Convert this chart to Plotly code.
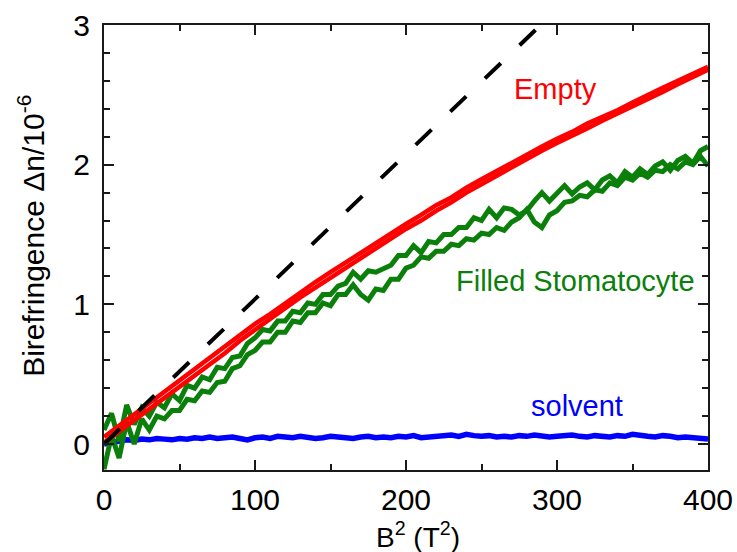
import plotly.graph_objects as go

# ---------------- data ----------------
x_fine = [0, 5, 10, 15, 20, 25, 30, 35, 40, 45, 50, 55, 60, 65, 70, 75, 80, 85, 90, 95,
          100, 105, 110, 115, 120, 125, 130, 135, 140, 145, 150, 155, 160, 165, 170, 175, 180, 185, 190, 195,
          200, 205, 210, 215, 220, 225, 230, 235, 240, 245, 250, 255, 260, 265, 270, 275, 280, 285, 290, 295,
          300, 305, 310, 315, 320, 325, 330, 335, 340, 345, 350, 355, 360, 365, 370, 375, 380, 385, 390, 395, 400]

x_coarse = [0, 10, 20, 30, 40, 50, 60, 70, 80, 90, 100, 110, 120, 130, 140, 150, 160, 170, 180, 190,
            200, 210, 220, 230, 240, 250, 260, 270, 280, 290, 300, 310, 320, 330, 340, 350, 360, 370, 380, 390, 400]

solvent = [0.0, 0.01, 0.02, 0.03, 0.025, 0.035, 0.03, 0.04, 0.035, 0.03, 0.04, 0.035, 0.045, 0.04, 0.05, 0.04,
           0.045, 0.05, 0.04, 0.03, 0.045, 0.05, 0.04, 0.055, 0.05, 0.045, 0.055, 0.05, 0.04, 0.045, 0.055, 0.05,
           0.045, 0.04, 0.05, 0.055, 0.045, 0.05, 0.045, 0.055, 0.05, 0.06, 0.045, 0.05, 0.055, 0.06, 0.065, 0.055,
           0.07, 0.06, 0.055, 0.06, 0.05, 0.055, 0.05, 0.06, 0.055, 0.065, 0.06, 0.05, 0.055, 0.06, 0.065, 0.055,
           0.05, 0.06, 0.055, 0.05, 0.06, 0.055, 0.07, 0.06, 0.055, 0.05, 0.06, 0.055, 0.045, 0.05, 0.045, 0.04, 0.035]

filled_up = [0.10, 0.22, 0.02, 0.28, 0.14, 0.26, 0.20, 0.30, 0.26, 0.36, 0.31, 0.42, 0.40, 0.48, 0.46, 0.55,
             0.54, 0.62, 0.63, 0.72, 0.76, 0.82, 0.81, 0.88, 0.88, 0.95, 0.94, 1.01, 1.00, 1.07, 1.07, 1.13,
             1.15, 1.23, 1.18, 1.24, 1.23, 1.26, 1.28, 1.35, 1.35, 1.42, 1.37, 1.45, 1.44, 1.50, 1.50, 1.55,
             1.55, 1.62, 1.60, 1.68, 1.62, 1.69, 1.68, 1.64, 1.67, 1.74, 1.80, 1.74, 1.79, 1.85, 1.79, 1.84,
             1.87, 1.82, 1.89, 1.92, 1.87, 1.95, 1.91, 1.97, 1.93, 1.99, 2.02, 1.96, 2.03, 2.06, 2.01, 2.10, 2.13]

filled_down = [-0.18, 0.06, -0.10, 0.16, 0.00, 0.18, 0.10, 0.20, 0.18, 0.24, 0.24, 0.32, 0.31, 0.38, 0.37, 0.44,
               0.45, 0.54, 0.56, 0.64, 0.67, 0.73, 0.73, 0.80, 0.80, 0.88, 0.87, 0.94, 0.94, 1.01, 0.99, 1.07,
               1.07, 1.14, 1.07, 1.03, 1.11, 1.10, 1.18, 1.18, 1.26, 1.28, 1.34, 1.33, 1.38, 1.38, 1.43, 1.42,
               1.47, 1.46, 1.51, 1.50, 1.55, 1.53, 1.59, 1.62, 1.68, 1.59, 1.55, 1.64, 1.67, 1.73, 1.74, 1.78,
               1.77, 1.82, 1.81, 1.87, 1.85, 1.91, 1.89, 1.94, 1.91, 1.96, 1.95, 2.00, 1.97, 2.02, 2.00, 2.06, 1.99]

empty_up = [0.05, 0.13, 0.21, 0.29, 0.37, 0.45, 0.53, 0.61, 0.69, 0.78, 0.86, 0.93, 1.01, 1.09, 1.16, 1.23,
            1.30, 1.37, 1.44, 1.51, 1.575, 1.64, 1.71, 1.765, 1.835, 1.895, 1.955, 2.015, 2.075, 2.13, 2.185,
            2.235, 2.295, 2.34, 2.39, 2.445, 2.50, 2.55, 2.60, 2.65, 2.70]

empty_down = [0.01, 0.09, 0.17, 0.25, 0.335, 0.41, 0.49, 0.57, 0.65, 0.74, 0.82, 0.89, 0.97, 1.05, 1.12, 1.19,
              1.26, 1.33, 1.40, 1.47, 1.54, 1.60, 1.67, 1.73, 1.80, 1.86, 1.92, 1.985, 2.045, 2.10, 2.155,
              2.205, 2.26, 2.315, 2.365, 2.415, 2.47, 2.52, 2.575, 2.63, 2.68]

guide_x = [0, 400]
guide_y = [0, 4.15]

RED = "#ff0000"
GREEN = "#0a800a"
BLUE = "#0000ff"
FONT = "Arial, Liberation Sans, sans-serif"
INK = "#1a1a1a"

fig = go.Figure()
fig.add_trace(go.Scatter(x=x_fine, y=solvent, mode="lines",
                         line=dict(color=BLUE, width=5.5), showlegend=False))
fig.add_trace(go.Scatter(x=x_fine, y=filled_up, mode="lines",
                         line=dict(color=GREEN, width=5), showlegend=False))
fig.add_trace(go.Scatter(x=x_fine, y=filled_down, mode="lines",
                         line=dict(color=GREEN, width=5), showlegend=False))
fig.add_trace(go.Scatter(x=x_coarse, y=empty_up, mode="lines",
                         line=dict(color=RED, width=4.5), showlegend=False))
fig.add_trace(go.Scatter(x=x_coarse, y=empty_down, mode="lines",
                         line=dict(color=RED, width=4.5), showlegend=False))
fig.add_trace(go.Scatter(x=guide_x, y=guide_y, mode="lines",
                         line=dict(color="black", width=4, dash="22px,26px"), showlegend=False))

fig.add_annotation(x=299, y=2.54, text="Empty", showarrow=False,
                   font=dict(color=RED, size=29, family=FONT))
fig.add_annotation(x=312, y=1.17, text="Filled Stomatocyte", showarrow=False,
                   font=dict(color=GREEN, size=29, family=FONT))
fig.add_annotation(x=313, y=0.27, text="solvent", showarrow=False,
                   font=dict(color=BLUE, size=29, family=FONT))

# axis titles (placed relative to plot area)
fig.add_annotation(xref="paper", yref="paper", x=0.52, y=-0.147, yanchor="middle",
                   text="B<sup>2</sup> (T<sup>2</sup>)", showarrow=False,
                   font=dict(size=28, family=FONT, color="black"))
fig.add_annotation(xref="paper", yref="paper", x=-0.121, y=0.526, xanchor="center", yanchor="middle",
                   textangle=-90, text="Birefringence Δn/10<sup>-6</sup>", showarrow=False,
                   font=dict(size=30, family=FONT, color="black"))

axis_common = dict(showline=True, linecolor=INK, linewidth=2, mirror="allticks",
                   ticks="inside", ticklen=10, tickwidth=2, tickcolor=INK,
                   showgrid=False, zeroline=False, automargin=False,
                   tickfont=dict(size=30, family=FONT, color="black"))

fig.update_xaxes(range=[0, 400], tick0=0, dtick=100,
                 minor=dict(ticks="inside", ticklen=6, tickwidth=2, tickcolor=INK, dtick=50, showgrid=False),
                 ticklabelstandoff=2,
                 **axis_common)
fig.update_yaxes(range=[-0.186, 3.0], tick0=0, dtick=1,
                 minor=dict(ticks="inside", ticklen=6, tickwidth=2, tickcolor=INK, dtick=0.2, showgrid=False),
                 ticklabelstandoff=6,
                 **axis_common)

fig.update_layout(width=737, height=552, plot_bgcolor="white", paper_bgcolor="white",
                  margin=dict(l=104, r=29, t=25, b=82), showlegend=False)

fig.write_html("out.html", config={"displayModeBar": False},
               post_script="document.body.style.margin='0';document.body.style.padding='0';")
